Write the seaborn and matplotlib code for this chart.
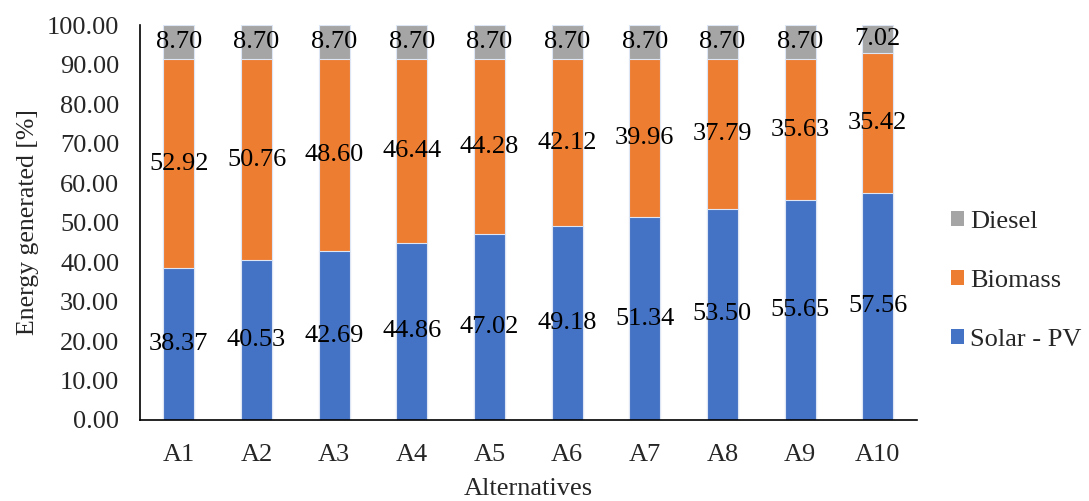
import matplotlib
matplotlib.use("Agg")
import matplotlib.pyplot as plt
import seaborn as sns
import pandas as pd
import numpy as np
from matplotlib.patches import Patch

alternatives = ["A1", "A2", "A3", "A4", "A5", "A6", "A7", "A8", "A9", "A10"]
solar_pv = [38.37, 40.53, 42.69, 44.86, 47.02, 49.18, 51.34, 53.50, 55.65, 57.56]
biomass = [52.92, 50.76, 48.60, 46.44, 44.28, 42.12, 39.96, 37.79, 35.63, 35.42]
diesel = [8.70, 8.70, 8.70, 8.70, 8.70, 8.70, 8.70, 8.70, 8.70, 7.02]

colors = {"Solar - PV": "#4472C4", "Biomass": "#ED7D31", "Diesel": "#A5A5A5"}

sns.set_theme(style="white")
plt.rcParams["font.family"] = ["Liberation Serif", "DejaVu Serif"]

df = pd.DataFrame({"Alternative": alternatives, "Solar - PV": solar_pv,
                   "Biomass": biomass, "Diesel": diesel})
df["lvl1"] = df["Solar - PV"]
df["lvl2"] = df["lvl1"] + df["Biomass"]
df["lvl3"] = df["lvl2"] + df["Diesel"]

fig = plt.figure(figsize=(10.89, 5.01), dpi=100)
ax = fig.add_axes([0.1286, 0.1617, 0.713, 0.7883])

# Stacked bars drawn as layered cumulative totals
for col, name in [("lvl3", "Diesel"), ("lvl2", "Biomass"), ("lvl1", "Solar - PV")]:
    sns.barplot(data=df, x="Alternative", y=col, color=colors[name], width=0.4,
                saturation=1, edgecolor="#dde6f5", linewidth=0.8, ax=ax)

# Value labels at the centre of each segment
for i in range(len(alternatives)):
    segs = [(0, solar_pv[i]), (solar_pv[i], biomass[i]),
            (solar_pv[i] + biomass[i], diesel[i])]
    for base, val in segs:
        ax.text(i, base + val / 2, f"{val:.2f}", ha="center", va="center",
                fontsize=19, color="black")

ax.set_ylim(0, 100)
ax.set_xlim(-0.5, len(alternatives) - 0.5)
ax.set_yticks(np.arange(0, 101, 10))
ax.set_yticklabels([f"{v:.2f}" for v in np.arange(0, 101, 10)], fontsize=19)
ax.tick_params(axis="x", labelsize=19, pad=11)
ax.tick_params(axis="y", pad=9)
ax.set_xlabel("Alternatives", fontsize=19, labelpad=9)
ax.set_ylabel("Energy generated [%]", fontsize=18.5, labelpad=6)

sns.despine(ax=ax, top=True, right=True)
for s in ["left", "bottom"]:
    ax.spines[s].set_color("black")
    ax.spines[s].set_linewidth(1.2)

handles = [Patch(facecolor=colors[n], edgecolor="none", label=n)
           for n in ["Diesel", "Biomass", "Solar - PV"]]
fig.legend(handles=handles, loc="center left", bbox_to_anchor=(0.856, 0.44),
           frameon=False, fontsize=19, handlelength=0.5, handleheight=0.5,
           handletextpad=0.25, labelspacing=1.4, borderpad=0.2)

fig.savefig("out.png", dpi=100)
